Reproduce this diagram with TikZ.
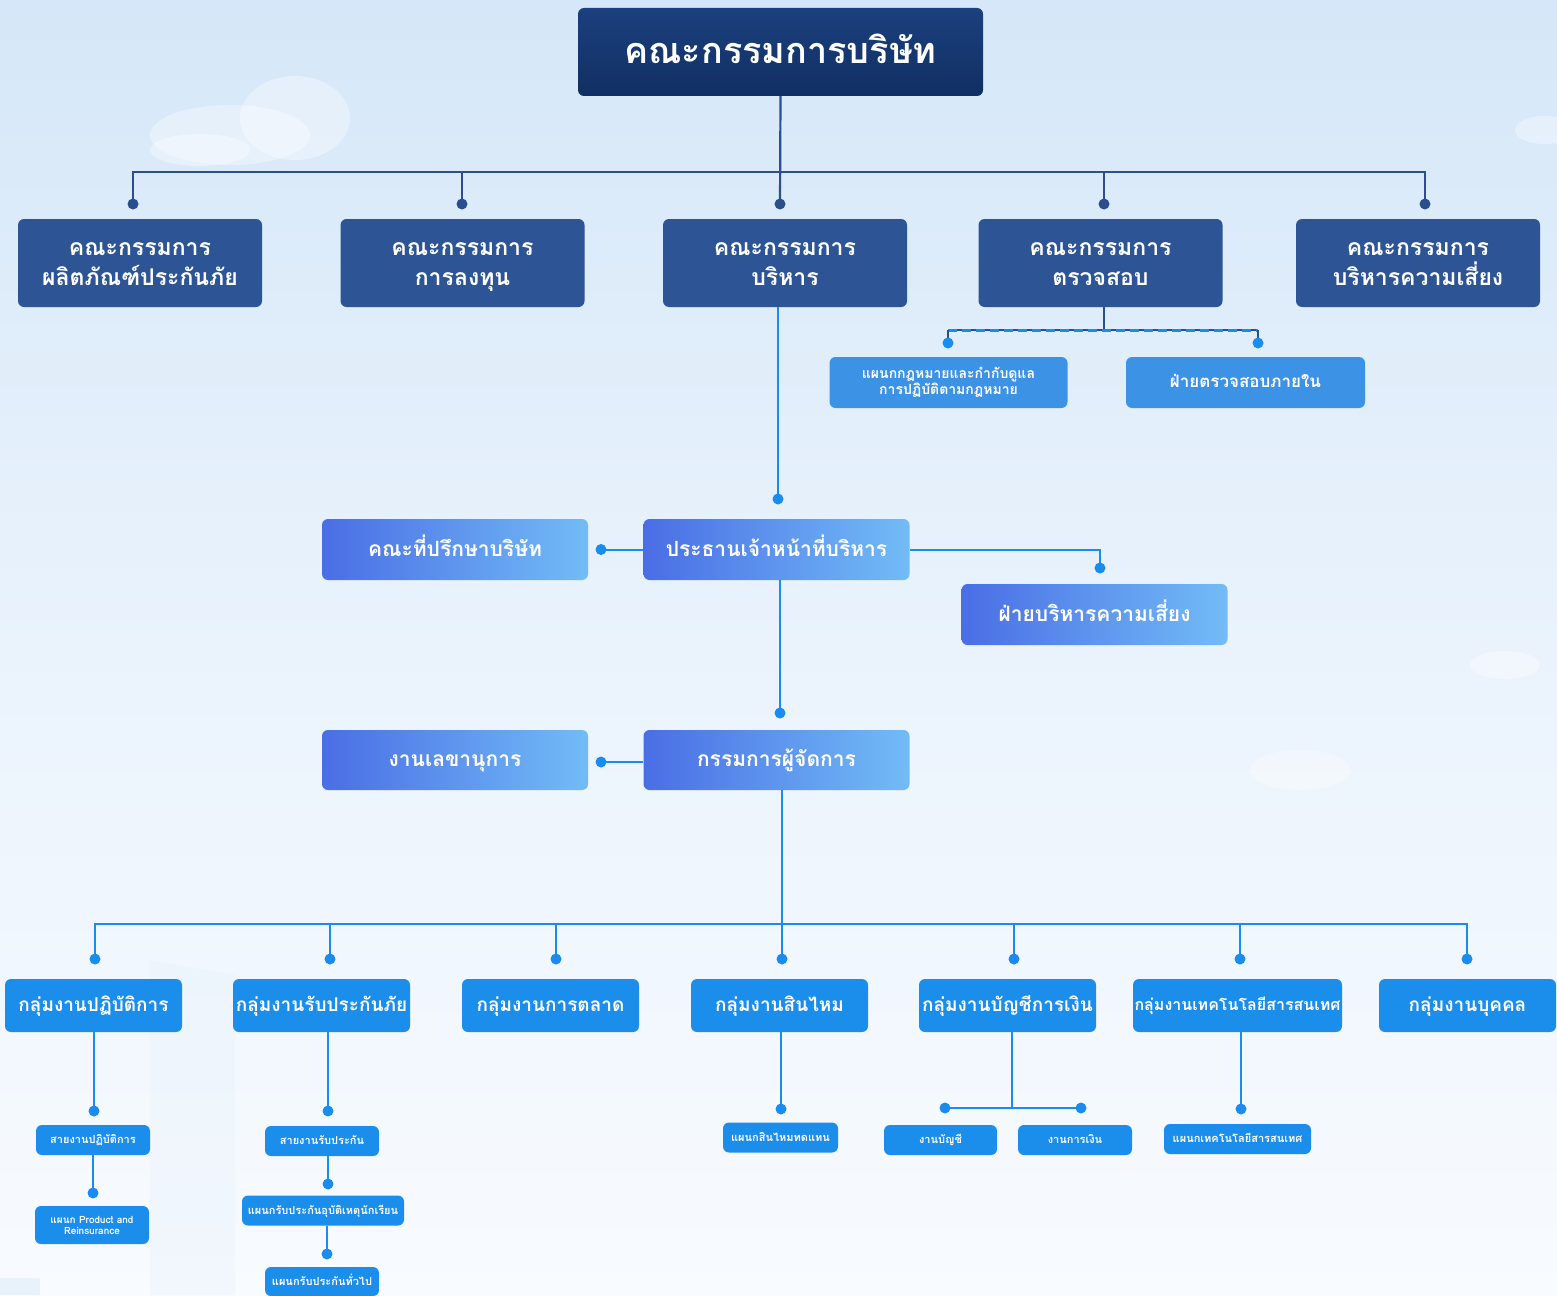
\documentclass[tikz,border=0pt]{standalone}
\usepackage{fontspec}
\newfontfamily\thai[Script=Thai]{Loma}
\usetikzlibrary{calc}
\newcommand\tl[1]{\smash{#1}\rule[-0.2em]{0pt}{1.04em}}
\definecolor{bgtop}{HTML}{D5E7F8}
\definecolor{bgbot}{HTML}{F8FBFF}
\definecolor{navyA}{HTML}{1C407E}
\definecolor{navyB}{HTML}{102F63}
\definecolor{comm}{HTML}{2D5596}
\definecolor{dline}{HTML}{2A4E8E}
\definecolor{bright}{HTML}{1A8CF0}
\definecolor{subbox}{HTML}{3C92E4}
\definecolor{gradL}{HTML}{4A6EE5}
\definecolor{gradR}{HTML}{72BCF6}
\definecolor{botbox}{HTML}{1B8DEB}
\tikzset{
  base/.style={rounded corners=6pt, text=white, align=center, inner sep=0pt, font=\thai},
  boardbox/.style={base, top color=navyA, bottom color=navyB, minimum width=405pt, minimum height=88pt, font=\thai\fontsize{36}{42}\selectfont\bfseries},
  commbox/.style={base, fill=comm, minimum width=244pt, minimum height=88pt, font=\thai\fontsize{23}{30}\selectfont\bfseries},
  subbluebox/.style={base, fill=subbox, minimum width=238pt, minimum height=51pt},
  gradbox/.style={base, left color=gradL, right color=gradR, minimum width=266pt, minimum height=61pt, font=\thai\fontsize{21}{26}\selectfont\bfseries},
  botgroup/.style={base, fill=botbox, minimum width=177pt, minimum height=53pt, font=\thai\fontsize{19}{24}\selectfont\bfseries},
  smallbox/.style={base, fill=botbox, minimum width=114pt, minimum height=30pt, font=\thai\fontsize{11}{13}\selectfont\bfseries},
  darkconn/.style={draw=dline, line width=2.2pt},
  brightconn/.style={draw=bright, line width=2pt},
  darkdot/.style={fill=dline},
  brightdot/.style={fill=bright},
}
\begin{document}
\begin{tikzpicture}[x=1pt,y=-1pt]
\useasboundingbox (0,0) rectangle (1557,1295);
% background
\shade[top color=bgtop, bottom color=bgbot, middle color=bgbot!60!bgtop] (0,0) rectangle (1557,1295);
% faint decorations (clouds, building)
\begin{scope}[white, opacity=0.35]
  \fill (230,135) ellipse (80pt and 30pt);
  \fill (295,118) ellipse (55pt and 42pt);
  \fill (200,150) ellipse (50pt and 16pt);
  \fill (1545,130) ellipse (30pt and 14pt);
  \fill (1300,770) ellipse (50pt and 20pt);
  \fill (1505,665) ellipse (35pt and 14pt);
\end{scope}
\fill[bgtop!50!white, opacity=0.45] (150,960) -- (235,975) -- (235,1295) -- (150,1295) -- cycle;
\fill[bgtop!80!white, opacity=0.6] (0,1278) rectangle (40,1295);

% ---- nodes ----
\node[boardbox] (board) at (780.5,52) {\tl{คณะกรรมการบริษัท}};

\node[commbox] (c1) at (140,263) {\tl{คณะกรรมการ}\\\tl{ผลิตภัณฑ์ประกันภัย}};
\node[commbox] (c2) at (462.5,263) {\tl{คณะกรรมการ}\\\tl{การลงทุน}};
\node[commbox] (c3) at (785,263) {\tl{คณะกรรมการ}\\\tl{บริหาร}};
\node[commbox] (c4) at (1100.5,263) {\tl{คณะกรรมการ}\\\tl{ตรวจสอบ}};
\node[commbox] (c5) at (1418,263) {\tl{คณะกรรมการ}\\\tl{บริหารความเสี่ยง}};

\node[subbluebox, font=\thai\fontsize{14}{16}\selectfont\bfseries] (law) at (948.5,382.5) {\tl{แผนกกฎหมายและกำกับดูแล}\\\tl{การปฏิบัติตามกฎหมาย}};
\node[subbluebox, minimum width=239pt, font=\thai\fontsize{17}{20}\selectfont\bfseries] (audit) at (1245.5,382.5) {\tl{ฝ่ายตรวจสอบภายใน}};

\node[gradbox] (ceo) at (776.5,549.5) {\tl{ประธานเจ้าหน้าที่บริหาร}};
\node[gradbox] (adv) at (455,549.5) {\tl{คณะที่ปรึกษาบริษัท}};
\node[gradbox] (risk) at (1094.5,614.5) {\tl{ฝ่ายบริหารความเสี่ยง}};
\node[gradbox, minimum height=60pt] (md) at (776.5,760) {\tl{กรรมการผู้จัดการ}};
\node[gradbox, minimum height=60pt] (sec) at (455,760) {\tl{งานเลขานุการ}};

\node[botgroup] (g1) at (93.5,1005.5) {\tl{กลุ่มงานปฏิบัติการ}};
\node[botgroup] (g2) at (321.5,1005.5) {\tl{กลุ่มงานรับประกันภัย}};
\node[botgroup] (g3) at (550.5,1005.5) {\tl{กลุ่มงานการตลาด}};
\node[botgroup] (g4) at (779.5,1005.5) {\tl{กลุ่มงานสินไหม}};
\node[botgroup] (g5) at (1007.5,1005.5) {\tl{กลุ่มงานบัญชีการเงิน}};
\node[botgroup, minimum width=209pt, font=\thai\fontsize{16}{20}\selectfont\bfseries] (g6) at (1237.5,1005.5) {\tl{กลุ่มงานเทคโนโลยีสารสนเทศ}};
\node[botgroup] (g7) at (1467.5,1005.5) {\tl{กลุ่มงานบุคคล}};

\node[smallbox] (s11) at (93,1140) {\tl{สายงานปฏิบัติการ}};
\node[smallbox, minimum height=38pt, font=\thai\fontsize{10}{11}\selectfont\bfseries] (s12) at (92,1225) {แผนก Product and\\Reinsurance};
\node[smallbox] (s21) at (322,1141) {\tl{สายงานรับประกัน}};
\node[smallbox, minimum width=162pt] (s22) at (323,1210.5) {\tl{แผนกรับประกันอุบัติเหตุนักเรียน}};
\node[smallbox, minimum height=29pt] (s23) at (322,1281.5) {\tl{แผนกรับประกันทั่วไป}};
\node[smallbox, minimum width=115pt] (s41) at (780.5,1137.5) {\tl{แผนกสินไหมทดแทน}};
\node[smallbox, minimum width=113pt] (s51) at (940.5,1140) {\tl{งานบัญชี}};
\node[smallbox] (s52) at (1075,1140) {\tl{งานการเงิน}};
\node[smallbox, minimum width=147pt] (s61) at (1237.5,1139) {\tl{แผนกเทคโนโลยีสารสนเทศ}};

% ---- coordinates ----
\coordinate (busL) at (133,172);
\coordinate (busR) at (1425,172);
\coordinate (dC1) at (133,204);
\coordinate (dC2) at (462,204);
\coordinate (dC3) at (780,204);
\coordinate (dC4) at (1104,204);
\coordinate (dC5) at (1425,204);

\coordinate (auditJ) at (1104,330);
\coordinate (dashL) at (948,330);
\coordinate (dashR) at (1258,330);
\coordinate (dLaw) at (948,343);
\coordinate (dAud) at (1258,343);

\coordinate (dCEO) at (778,499);
\coordinate (dAdv) at (601,549.5);
\coordinate (riskJ) at (1100,549.5);
\coordinate (dRisk) at (1100,568);
\coordinate (dMD) at (780,713);
\coordinate (dSec) at (601,762);

\coordinate (bbL) at (95,924);
\coordinate (bbR) at (1467,924);
\coordinate (dG1) at (95,959);
\coordinate (dG2) at (330,959);
\coordinate (dG3) at (556,959);
\coordinate (dG4) at (782,959);
\coordinate (dG5) at (1014,959);
\coordinate (dG6) at (1240,959);
\coordinate (dG7) at (1467,959);

\coordinate (dS11) at (94,1111);
\coordinate (dS12) at (93,1193);
\coordinate (dS21) at (328,1111);
\coordinate (dS22) at (328,1184);
\coordinate (dS23) at (327,1254);
\coordinate (dS41) at (781,1109);
\coordinate (accJ) at (1012,1108);
\coordinate (dS51) at (945,1108);
\coordinate (dS52) at (1081,1108);
\coordinate (dS61) at (1241,1109);

% ---- connectors: board level ----
\draw[darkconn] (board.south) -- (dC3);
\draw[darkconn] (dC1) -- (busL) -- (busR) -- (dC5);
\foreach \d in {dC2,dC4} \draw[darkconn] (\d) -- (\d |- busL);
\foreach \d in {dC1,dC2,dC3,dC4,dC5} \fill[darkdot] (\d) circle (5.5pt);

% audit committee sub-units
\draw[darkconn, line width=2pt] (c4.south -| auditJ) -- (auditJ);
\draw[darkconn, line width=1.6pt] (dashL) -- (dashR);
\draw[draw=bright, line width=3pt, dash pattern=on 9pt off 5pt] (dashL) -- (dashR);
\draw[darkconn, line width=2pt] (dashL) -- (dLaw);
\draw[darkconn, line width=2pt] (dashR) -- (dAud);
\fill[brightdot] (dLaw) circle (5.5pt);
\fill[brightdot] (dAud) circle (5.5pt);

% executive chain
\draw[brightconn] (c3.south -| dCEO) -- (dCEO);
\fill[brightdot] (dCEO) circle (5.5pt);
\draw[brightconn] (ceo.west) -- (dAdv);
\fill[brightdot] (dAdv) circle (5.5pt);
\draw[brightconn] (ceo.east) -- (riskJ) -- (dRisk);
\fill[brightdot] (dRisk) circle (5.5pt);
\draw[brightconn] (ceo.south -| dMD) -- (dMD);
\fill[brightdot] (dMD) circle (5.5pt);
\draw[brightconn] (md.west |- dSec) -- (dSec);
\fill[brightdot] (dSec) circle (5.5pt);

% bottom bus
\draw[brightconn] (md.south -| dG4) -- (dG4);
\draw[brightconn] (dG1) -- (bbL) -- (bbR) -- (dG7);
\foreach \d in {dG2,dG3,dG5,dG6} \draw[brightconn] (\d) -- (\d |- bbL);
\foreach \d in {dG1,dG2,dG3,dG4,dG5,dG6,dG7} \fill[brightdot] (\d) circle (5.5pt);

% sub-trees
\draw[brightconn] (g1.south -| dS11) -- (dS11);
\draw[brightconn] (s11.south -| dS12) -- (dS12);
\draw[brightconn] (g2.south -| dS21) -- (dS21);
\draw[brightconn] (s21.south -| dS22) -- (dS22);
\draw[brightconn] (s22.south -| dS23) -- (dS23);
\draw[brightconn] (g4.south -| dS41) -- (dS41);
\draw[brightconn] (g5.south -| accJ) -- (accJ);
\draw[brightconn] (dS51) -- (dS52);
\draw[brightconn] (g6.south -| dS61) -- (dS61);
\foreach \d in {dS11,dS12,dS21,dS22,dS23,dS41,dS51,dS52,dS61} \fill[brightdot] (\d) circle (5.5pt);
\end{tikzpicture}
\end{document}
